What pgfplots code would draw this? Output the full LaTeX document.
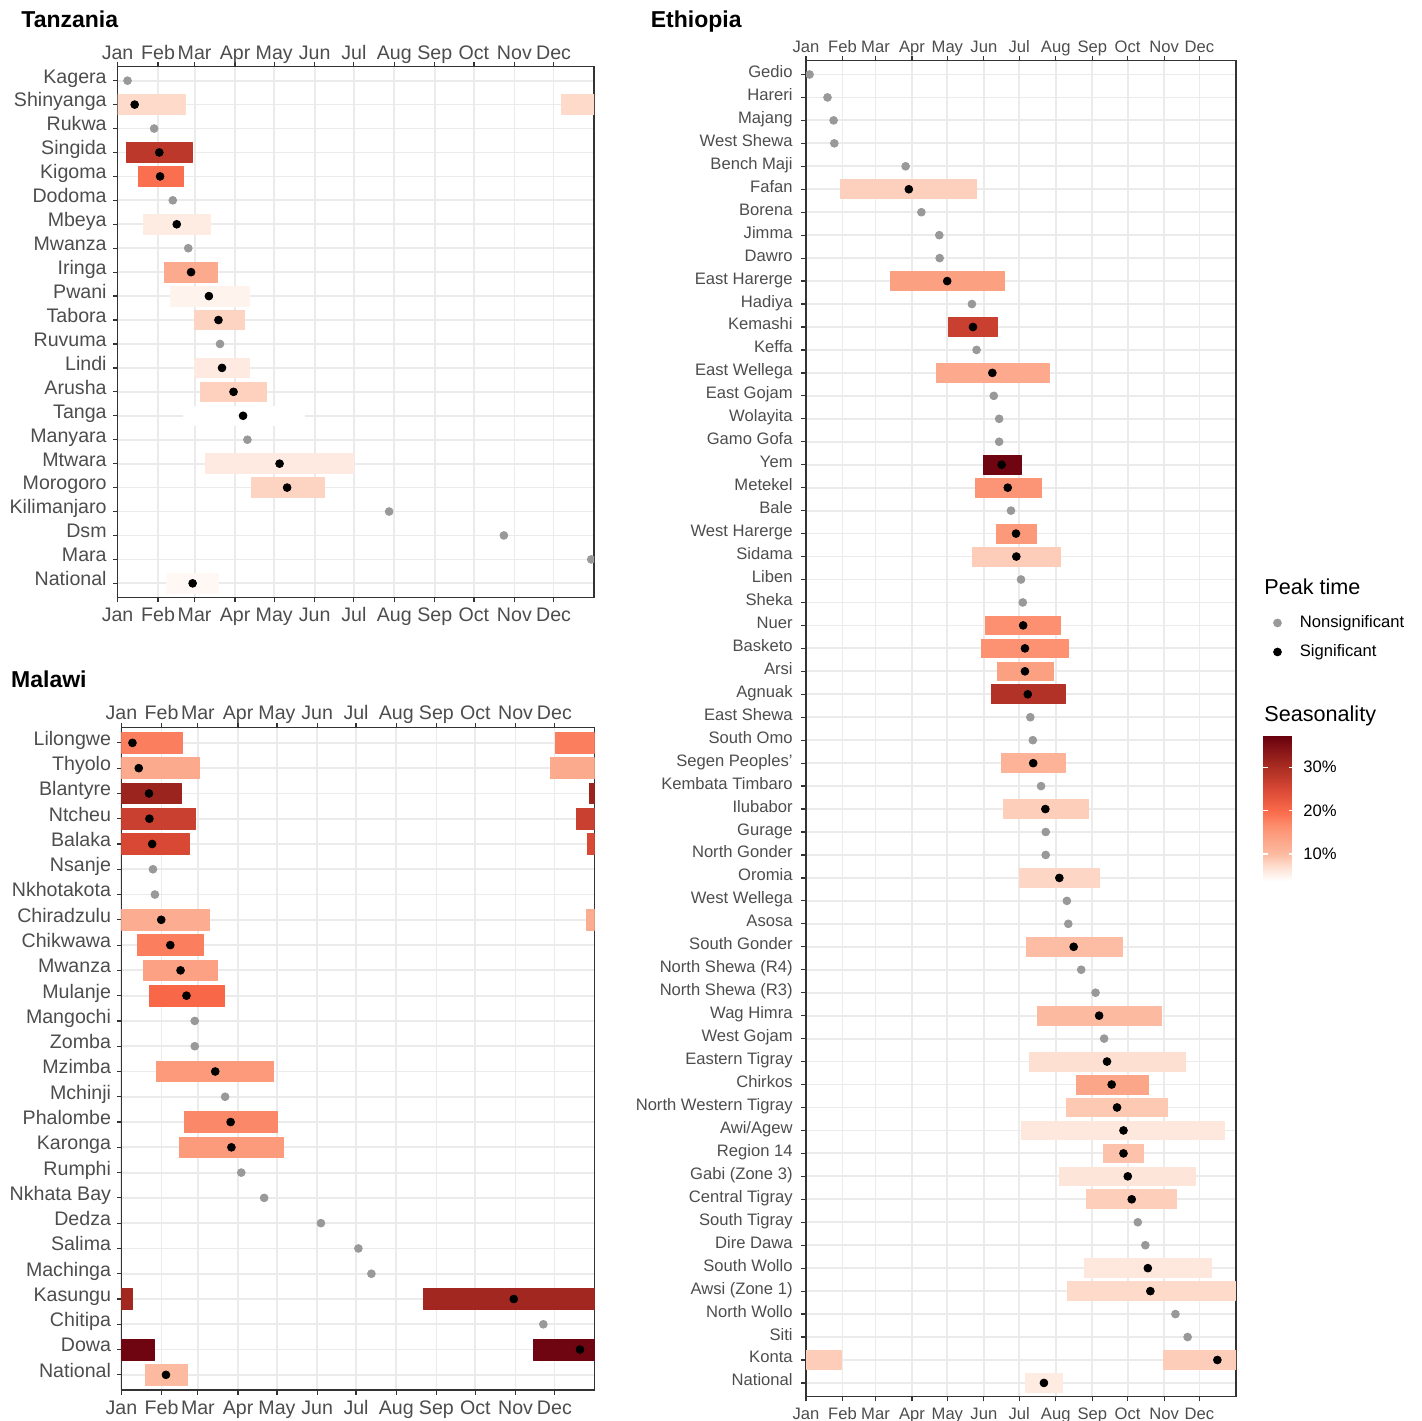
\documentclass[border=0pt]{standalone}
\usepackage{pgfplots}
\pgfplotsset{compat=1.18}
\usepackage{fontspec}
\setmainfont{Liberation Sans}
\definecolor{gridc}{RGB}{235,235,235}
\definecolor{axc}{RGB}{51,51,51}
\definecolor{tlab}{RGB}{77,77,77}
\definecolor{nsig}{RGB}{153,153,153}
\newcommand{\fA}{\fontsize{9.8}{11}\selectfont}
\newcommand{\fE}{\fontsize{8.3}{10}\selectfont}
\pgfplotsset{
  colormap={seas}{rgb255(0mm)=(255,255,255) rgb255(32mm)=(254,224,210) rgb255(62mm)=(252,187,161) rgb255(122mm)=(252,146,114) rgb255(162mm)=(250,106,74) rgb255(212mm)=(216,72,53) rgb255(262mm)=(170,45,35) rgb255(336mm)=(103,0,13)},
  panel/.style={
    scale only axis, anchor=south west,
    xmin=0, xmax=12, y dir=reverse,
    xtick={0,1.019,1.940,2.959,3.945,4.964,5.951,6.970,7.989,8.975,9.995,10.981},
    xticklabels={Jan,Feb,Mar,Apr,May,Jun,Jul,Aug,Sep,Oct,Nov,Dec},
    xmajorgrids, ymajorgrids,
    grid style={gridc, line width=0.9pt},
    axis line style={axc, line width=0.7pt},
    tick align=outside, major tick length=2.3pt,
    tick style={axc, line width=0.6pt},
    xtick pos=both, ytick pos=left, xticklabel pos=left,
    clip marker paths=true,
    colormap name=seas, point meta min=3.8, point meta max=37.4,
  },
  toplab/.style={
    scale only axis, anchor=south west,
    xmin=0, xmax=12, ymin=0, ymax=1,
    xtick={0,1.019,1.940,2.959,3.945,4.964,5.951,6.970,7.989,8.975,9.995,10.981},
    xticklabels={Jan,Feb,Mar,Apr,May,Jun,Jul,Aug,Sep,Oct,Nov,Dec},
    xticklabel pos=right, ytick=\empty,
    axis line style={draw=none}, major tick length=0pt, tick style={draw=none},
  },
  bars/.style={patch, patch type=rectangle, shader=flat, point meta=explicit, forget plot},
  sig/.style={only marks, mark=*, mark size=1.95pt, mark options={draw=none, fill=black}, color=black},
  nonsig/.style={only marks, mark=*, mark size=1.95pt, mark options={draw=none, fill=nsig}, color=nsig},
}
\begin{document}
\begin{tikzpicture}
\useasboundingbox (0,0) rectangle (710.5pt,710.5pt);

% ---------------- Tanzania ----------------
\begin{axis}[panel, at={(58.8pt,411.65pt)}, width=238.2pt, height=265.7pt,
  ymin=-0.6, ymax=21.6, ytick={0,...,21},
  yticklabels={Kagera,Shinyanga,Rukwa,Singida,Kigoma,Dodoma,Mbeya,Mwanza,Iringa,Pwani,Tabora,Ruvuma,Lindi,Arusha,Tanga,Manyara,Mtwara,Morogoro,Kilimanjaro,Dsm,Mara,National},
  ticklabel style={font=\fA, text=tlab},
  yticklabel style={anchor=base east, inner sep=0pt, yshift=-1.2pt, xshift=-3pt},
  xticklabel style={anchor=north, inner sep=0pt, text height=0.716em, yshift=-2.35pt}]
\addplot[bars] table[meta=c]{
x y c
0 0.59 7.5
1.70 0.59 7.5
1.70 1.41 7.5
0 1.41 7.5
11.17 0.59 7.5
12 0.59 7.5
12 1.41 7.5
11.17 1.41 7.5
0.21 2.59 28
1.88 2.59 28
1.88 3.41 28
0.21 3.41 28
0.52 3.59 19.5
1.65 3.59 19.5
1.65 4.41 19.5
0.52 4.41 19.5
0.65 5.59 5.8
2.33 5.59 5.8
2.33 6.41 5.8
0.65 6.41 5.8
1.18 7.59 12.5
2.51 7.59 12.5
2.51 8.41 12.5
1.18 8.41 12.5
1.32 8.59 5
3.32 8.59 5
3.32 9.41 5
1.32 9.41 5
1.93 9.59 8
3.19 9.59 8
3.19 10.41 8
1.93 10.41 8
1.93 11.59 6
3.32 11.59 6
3.32 12.41 6
1.93 12.41 6
2.08 12.59 8.2
3.74 12.59 8.2
3.74 13.41 8.2
2.08 13.41 8.2
1.65 13.59 3.8
4.70 13.59 3.8
4.70 14.41 3.8
1.65 14.41 3.8
2.21 15.59 6
5.94 15.59 6
5.94 16.41 6
2.21 16.41 6
3.36 16.59 8
5.20 16.59 8
5.20 17.41 8
3.36 17.41 8
1.24 20.59 4.5
2.54 20.59 4.5
2.54 21.41 4.5
1.24 21.41 4.5
};
\addplot[nonsig] table{
x y
0.25 0
0.92 2
1.39 5
1.78 7
2.58 11
3.27 15
6.84 18
9.73 19
11.93 20
};
\addplot[sig] table{
x y
0.43 1
1.05 3
1.07 4
1.49 6
1.85 8
2.30 9
2.54 10
2.63 12
2.92 13
3.16 14
4.08 16
4.27 17
1.89 21
};
\end{axis}
\begin{axis}[toplab, at={(58.8pt,411.65pt)}, width=238.2pt, height=265.7pt,
  xticklabel style={font=\fA, text=tlab, anchor=base, inner sep=0pt, yshift=3.5pt}]
\end{axis}

% ---------------- Malawi ----------------
\begin{axis}[panel, at={(60.7pt,15.5pt)}, width=236.6pt, height=331.15pt,
  ymin=-0.6, ymax=25.6, ytick={0,...,25},
  yticklabels={Lilongwe,Thyolo,Blantyre,Ntcheu,Balaka,Nsanje,Nkhotakota,Chiradzulu,Chikwawa,Mwanza,Mulanje,Mangochi,Zomba,Mzimba,Mchinji,Phalombe,Karonga,Rumphi,Nkhata Bay,Dedza,Salima,Machinga,Kasungu,Chitipa,Dowa,National},
  ticklabel style={font=\fA, text=tlab},
  yticklabel style={anchor=base east, inner sep=0pt, yshift=-1.2pt, xshift=-2.7pt},
  xticklabel style={anchor=north, inner sep=0pt, text height=0.716em, yshift=-2.8pt}]
\addplot[bars] table[meta=c]{
x y c
0 -0.41 18
1.55 -0.41 18
1.55 0.41 18
0 0.41 18
11.01 -0.41 18
12 -0.41 18
12 0.41 18
11.01 0.41 18
0 0.59 12.5
1.97 0.59 12.5
1.97 1.41 12.5
0 1.41 12.5
10.88 0.59 12.5
12 0.59 12.5
12 1.41 12.5
10.88 1.41 12.5
0 1.59 31.5
1.52 1.59 31.5
1.52 2.41 31.5
0 2.41 31.5
11.88 1.59 31.5
12 1.59 31.5
12 2.41 31.5
11.88 2.41 31.5
0 2.59 26.5
1.88 2.59 26.5
1.88 3.41 26.5
0 3.41 26.5
11.55 2.59 26.5
12 2.59 26.5
12 3.41 26.5
11.55 3.41 26.5
0 3.59 25
1.72 3.59 25
1.72 4.41 25
0 4.41 25
11.83 3.59 25
12 3.59 25
12 4.41 25
11.83 4.41 25
0 6.59 12
2.23 6.59 12
2.23 7.41 12
0 7.41 12
11.78 6.59 12
12 6.59 12
12 7.41 12
11.78 7.41 12
0.40 7.59 18
2.08 7.59 18
2.08 8.41 18
0.40 8.41 18
0.57 8.59 13.8
2.43 8.59 13.8
2.43 9.41 13.8
0.57 9.41 13.8
0.70 9.59 20.5
2.60 9.59 20.5
2.60 10.41 20.5
0.70 10.41 20.5
0.90 12.59 14.8
3.85 12.59 14.8
3.85 13.41 14.8
0.90 13.41 14.8
1.61 14.59 17
3.96 14.59 17
3.96 15.41 17
1.61 15.41 17
1.47 15.59 14.7
4.11 15.59 14.7
4.11 16.41 14.7
1.47 16.41 14.7
7.66 21.59 31
12 21.59 31
12 22.41 31
7.66 22.41 31
0 21.59 31
0.27 21.59 31
0.27 22.41 31
0 22.41 31
10.46 23.59 36.5
12 23.59 36.5
12 24.41 36.5
10.46 24.41 36.5
0 23.59 36.5
0.83 23.59 36.5
0.83 24.41 36.5
0 24.41 36.5
0.60 24.59 10
1.67 24.59 10
1.67 25.41 10
0.60 25.41 10
};
\addplot[nonsig] table{
x y
0.80 5
0.85 6
1.86 11
1.86 12
2.63 14
3.04 17
3.62 18
5.06 19
6.01 20
6.34 21
10.70 23
};
\addplot[sig] table{
x y
0.28 0
0.44 1
0.70 2
0.71 3
0.78 4
1.01 7
1.24 8
1.50 9
1.65 10
2.38 13
2.77 15
2.79 16
9.95 22
11.63 24
1.13 25
};
\end{axis}
\begin{axis}[toplab, at={(60.7pt,15.5pt)}, width=236.6pt, height=331.15pt,
  xticklabel style={font=\fA, text=tlab, anchor=base, inner sep=0pt, yshift=3.85pt}]
\end{axis}

% ---------------- Ethiopia ----------------
\begin{axis}[panel, at={(403pt,12.15pt)}, width=215pt, height=668pt,
  ymin=-0.6, ymax=57.6, ytick={0,...,57},
  yticklabels={Gedio,Hareri,Majang,West Shewa,Bench Maji,Fafan,Borena,Jimma,Dawro,East Harerge,Hadiya,Kemashi,Keffa,East Wellega,East Gojam,Wolayita,Gamo Gofa,Yem,Metekel,Bale,West Harerge,Sidama,Liben,Sheka,Nuer,Basketo,Arsi,Agnuak,East Shewa,South Omo,Segen Peoples',Kembata Timbaro,Ilubabor,Gurage,North Gonder,Oromia,West Wellega,Asosa,South Gonder,North Shewa (R4),North Shewa (R3),Wag Himra,West Gojam,Eastern Tigray,Chirkos,North Western Tigray,Awi/Agew,Region 14,Gabi (Zone 3),Central Tigray,South Tigray,Dire Dawa,South Wollo,Awsi (Zone 1),North Wollo,Siti,Konta,National},
  ticklabel style={font=\fE, text=tlab},
  yticklabel style={anchor=base east, inner sep=0pt, yshift=-1.5pt, xshift=-4.2pt},
  xticklabel style={anchor=north, inner sep=0pt, text height=0.716em, yshift=-1.7pt},
  legend image code/.code={\draw[#1] plot coordinates {(0pt,0pt)}; \path[draw=none, fill=none] (0pt,-0.1pt) rectangle (9.2pt,0.1pt);},
  legend style={at={(1.0865,0.5683)}, anchor=west, draw=none, fill=none, inner sep=0pt, font=\fE, row sep=3pt, legend cell align=left},
  colorbar,
  colorbar style={
    at={(parent axis.north east)}, anchor=north west,
    xshift=5pt, yshift=-337.15pt,
    scale only axis, width=15.5pt, height=73pt,
    ytick={10,20,30}, yticklabels={10\%,20\%,30\%},
    yticklabel pos=right, ytick pos=both,
    tick align=inside, major tick length=2.5pt,
    ytick style={white, line width=0.6pt},
    axis line style={draw=none},
    yticklabel style={font=\fE, text=black, inner sep=0pt, xshift=4.5pt},
  }]
\addplot[bars] table[meta=c]{
x y c
0.97 4.59 8.3
4.75 4.59 8.3
4.75 5.41 8.3
0.97 5.41 8.3
2.35 8.59 14
5.53 8.59 14
5.53 9.41 14
2.35 9.41 14
3.96 10.59 26.5
5.33 10.59 26.5
5.33 11.41 26.5
3.96 11.41 26.5
3.65 12.59 12.6
6.79 12.59 12.6
6.79 13.41 12.6
3.65 13.41 12.6
4.94 16.59 36.5
6.01 16.59 36.5
6.01 17.41 36.5
4.94 17.41 36.5
4.72 17.59 15.5
6.56 17.59 15.5
6.56 18.41 15.5
4.72 18.41 15.5
5.31 19.59 15
6.43 19.59 15
6.43 20.41 15
5.31 20.41 15
4.63 20.59 8.5
7.09 20.59 8.5
7.09 21.41 8.5
4.63 21.41 8.5
5.02 23.59 16.2
7.09 23.59 16.2
7.09 24.41 16.2
5.02 24.41 16.2
4.89 24.59 16
7.32 24.59 16
7.32 25.41 16
4.89 25.41 16
5.33 25.59 14
6.90 25.59 14
6.90 26.41 14
5.33 26.41 14
5.17 26.59 29
7.23 26.59 29
7.23 27.41 29
5.17 27.41 29
5.44 29.59 11.2
7.23 29.59 11.2
7.23 30.41 11.2
5.44 30.41 11.2
5.50 31.59 8.4
7.88 31.59 8.4
7.88 32.41 8.4
5.50 32.41 8.4
5.95 34.59 7.8
8.19 34.59 7.8
8.19 35.41 7.8
5.95 35.41 7.8
6.14 37.59 9.8
8.83 37.59 9.8
8.83 38.41 9.8
6.14 38.41 9.8
6.45 40.59 10
9.91 40.59 10
9.91 41.41 10
6.45 41.41 10
6.23 42.59 7
10.60 42.59 7
10.60 43.41 7
6.23 43.41 7
7.54 43.59 13
9.56 43.59 13
9.56 44.41 13
7.54 44.41 13
7.27 44.59 8.9
10.09 44.59 8.9
10.09 45.41 8.9
7.27 45.41 8.9
6.02 45.59 6.3
11.68 45.59 6.3
11.68 46.41 6.3
6.02 46.41 6.3
8.30 46.59 9.4
9.41 46.59 9.4
9.41 47.41 9.4
8.30 47.41 9.4
7.07 47.59 6.5
10.87 47.59 6.5
10.87 48.41 6.5
7.07 48.41 6.5
7.82 48.59 8.4
10.34 48.59 8.4
10.34 49.41 8.4
7.82 49.41 8.4
7.77 51.59 6.3
11.32 51.59 6.3
11.32 52.41 6.3
7.77 52.41 6.3
7.29 52.59 7.5
11.97 52.59 7.5
11.97 53.41 7.5
7.29 53.41 7.5
9.98 55.59 8.5
12 55.59 8.5
12 56.41 8.5
9.98 56.41 8.5
0 55.59 8.5
1.00 55.59 8.5
1.00 56.41 8.5
0 56.41 8.5
6.12 56.59 5.8
7.16 56.59 5.8
7.16 57.41 5.8
6.12 57.41 5.8
};
\addplot[nonsig] table{
x y
0.10 0
0.60 1
0.77 2
0.79 3
2.78 4
3.22 6
3.72 7
3.73 8
4.63 10
4.76 12
5.24 14
5.39 15
5.39 16
5.72 19
6.00 22
6.05 23
6.26 28
6.33 29
6.56 31
6.69 33
6.69 34
7.28 36
7.32 37
7.68 39
8.08 40
8.32 42
9.26 50
9.47 51
10.31 54
10.65 55
};
\addlegendentry{Nonsignificant}
\addplot[sig] table{
x y
2.87 5
3.94 9
4.66 11
5.20 13
5.46 17
5.63 18
5.86 20
5.87 21
6.06 24
6.11 25
6.11 26
6.19 27
6.34 30
6.68 32
7.07 35
7.47 38
8.18 41
8.40 43
8.53 44
8.68 45
8.86 46
8.86 47
8.98 48
9.09 49
9.54 52
9.61 53
11.48 56
6.64 57
};
\addlegendentry{Significant}
\end{axis}
\begin{axis}[toplab, at={(403pt,12.15pt)}, width=215pt, height=668pt,
  xticklabel style={font=\fE, text=tlab, anchor=base, inner sep=0pt, yshift=4pt}]
\end{axis}

% titles
\node[anchor=base west, inner sep=0pt, font=\bfseries\fontsize{11.5}{13}\selectfont] at (10.5pt,696.5pt) {Tanzania};
\node[anchor=base west, inner sep=0pt, font=\bfseries\fontsize{11.5}{13}\selectfont] at (5.4pt,366.5pt) {Malawi};
\node[anchor=base west, inner sep=0pt, font=\bfseries\fontsize{11.5}{13}\selectfont] at (325.25pt,696.5pt) {Ethiopia};
\node[anchor=base west, inner sep=0pt, font=\fontsize{10.8}{12}\selectfont] at (632pt,413pt) {Peak time};
\node[anchor=base west, inner sep=0pt, font=\fontsize{10.8}{12}\selectfont] at (632pt,349.5pt) {Seasonality};
\end{tikzpicture}
\end{document}
